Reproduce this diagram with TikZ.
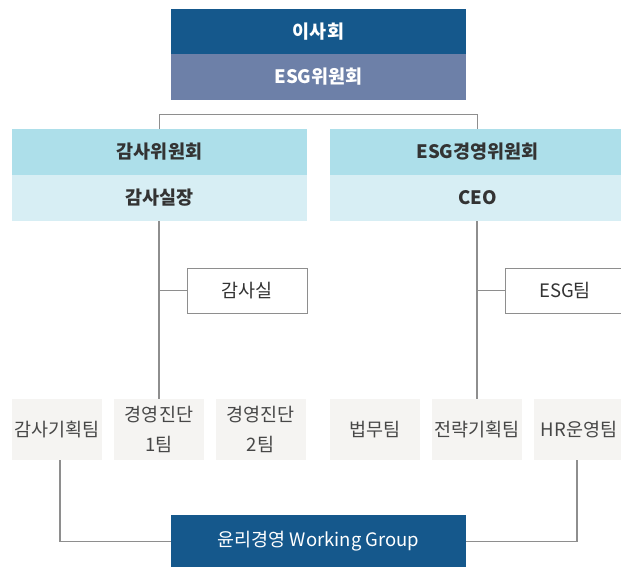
\documentclass[tikz,border=0pt]{standalone}
\usepackage{fontspec}
\setmainfont{Noto Sans CJK KR}
\definecolor{navy}{HTML}{15588C}
\definecolor{slate}{HTML}{6D80A8}
\definecolor{cyanA}{HTML}{ADDFEA}
\definecolor{cyanB}{HTML}{D7EEF4}
\definecolor{paleg}{HTML}{F5F4F2}
\definecolor{linec}{HTML}{8E8E8E}
\definecolor{txtd}{HTML}{333333}
\definecolor{txtm}{HTML}{474747}
\tikzset{
  base/.style={inner sep=0pt, outer sep=0pt, anchor=center},
  wide/.style={base, minimum width=295pt, minimum height=46pt},
  topdark/.style={wide, fill=navy, text=white, font=\fontsize{18.5}{22}\selectfont\bfseries},
  topslate/.style={wide, fill=slate, text=white, font=\fontsize{18.5}{22}\selectfont\bfseries},
  comA/.style={wide, fill=cyanA, text=txtd, font=\fontsize{18.5}{22}\selectfont\bfseries},
  comB/.style={wide, fill=cyanB, text=txtd, font=\fontsize{18.5}{22}\selectfont\bfseries},
  office/.style={base, draw=linec, line width=1pt, fill=white, minimum width=120pt, minimum height=45pt, text=txtd, font=\fontsize{18.5}{22}\selectfont},
  team/.style={base, fill=paleg, minimum width=90pt, minimum height=61pt, text=txtm, align=center, font=\fontsize{18.5}{30}\selectfont},
  wg/.style={base, fill=navy, text=white, minimum width=295pt, minimum height=53pt, font=\fontsize{18.5}{22}\selectfont},
  link/.style={draw=linec, line width=1.3pt},
}
\begin{document}
\begin{tikzpicture}[x=1pt,y=-1pt]
\clip (0,0) rectangle (621,566);
\fill[white] (0,0) rectangle (621,566);
% top
\node[topdark, minimum height=45.5pt] (board) at (318.5,31.25) {이사회};
\node[topslate, minimum height=45.5pt] (esgb) at (318.5,76.75) {ESG위원회};
% committees
\node[comA] (audc) at (159.5,152) {감사위원회};
\node[comB] (audh) at (159.5,198) {감사실장};
\node[comA] (esgc) at (477.5,152) {ESG경영위원회};
\node[comB] (ceo) at (477.5,198) {CEO};
% offices
\node[office] (audo) at (247,290.5) {감사실};
\node[office] (esgt) at (565,290.5) {ESG팀};
% teams
\node[team] (t1) at (57,429.5) {감사기획팀};
\node[team] (t2) at (159,429.5) {경영진단\\1팀};
\node[team] (t3) at (260.5,429.5) {경영진단\\2팀};
\node[team] (t4) at (375,429.5) {법무팀};
\node[team] (t5) at (477,429.5) {전략기획팀};
\node[team] (t6) at (579,429.5) {HR운영팀};
% working group
\node[wg] (wgp) at (318.5,541.5) {윤리경영 Working Group};
% connectors
\coordinate (bl) at (159,114.3);
\coordinate (br) at (477,114.3);
\draw[link, line width=1pt] (bl |- audc.north) -- (bl) -- (br) -- (br |- esgc.north);
\draw[link] (audh.south -| t2.north) -- (t2.north);
\draw[link, line width=1pt] (t2.north |- audo.west) -- (audo.west);
\draw[link] (ceo.south -| t5.north) -- (t5.north);
\draw[link, line width=1pt] (t5.north |- esgt.west) -- (esgt.west);
\draw[link] (60,460) -- (60,541.5) -- (wgp.west);
\draw[link] (577,460) -- (577,541.5) -- (wgp.east);
\end{tikzpicture}
\end{document}
